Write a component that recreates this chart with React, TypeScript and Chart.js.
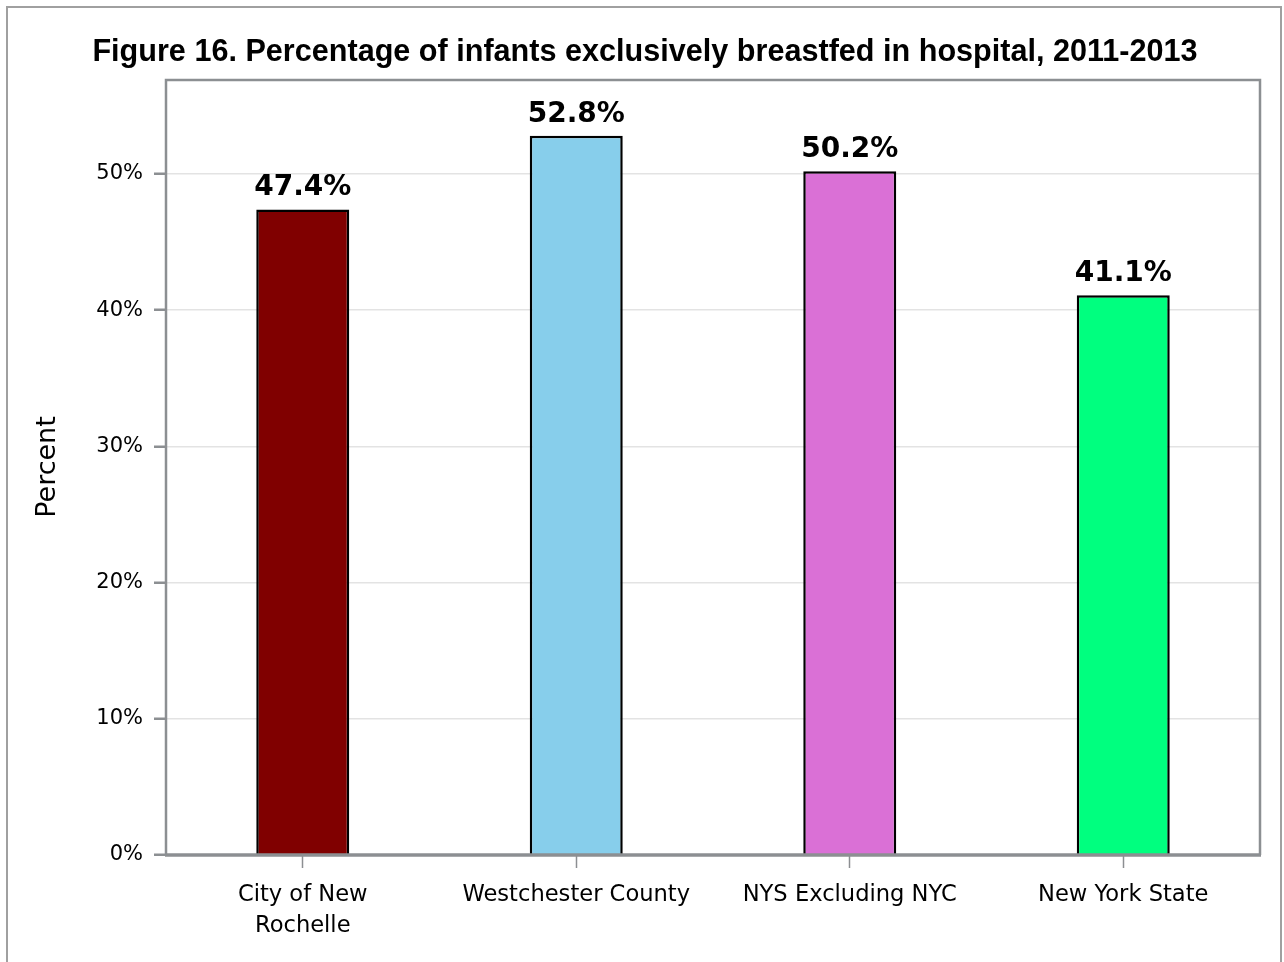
import React, { useEffect, useRef } from "react";
import { Chart, registerables } from "chart.js";

Chart.register(...registerables);

const TITLE = "Figure 16. Percentage of infants exclusively breastfed in hospital, 2011-2013";
const Y_TITLE = "Percent";
const categories: (string | string[])[] = [
  ["City of New", "Rochelle"],
  "Westchester County",
  "NYS Excluding NYC",
  "New York State",
];
const values = [47.4, 52.8, 50.2, 41.1];
const barColors = ["#800000", "#87CEEB", "#DA70D6", "#00FF7F"];
const yTicks = [0, 10, 20, 30, 40, 50];
const Y_MAX = 56.9;

const FRAME = "#8c8f92";
const DEJAVU = "'DejaVu Sans', Verdana, sans-serif";

const customPlugin = {
  id: "custom",
  afterDraw(chart: any) {
    const { ctx, chartArea } = chart;
    const { left, top, right, bottom } = chartArea;
    ctx.save();
    // plot frame
    ctx.strokeStyle = FRAME;
    ctx.lineWidth = 2.5;
    ctx.beginPath();
    ctx.moveTo(left, bottom);
    ctx.lineTo(left, top);
    ctx.lineTo(right, top);
    ctx.lineTo(right, bottom);
    ctx.stroke();
    ctx.lineWidth = 3.5;
    ctx.beginPath();
    ctx.moveTo(left - 1, bottom);
    ctx.lineTo(right + 1, bottom);
    ctx.stroke();

    // title
    ctx.fillStyle = "#000";
    ctx.font = "bold 30.6px 'Liberation Sans', Arial, sans-serif";
    ctx.textAlign = "center";
    ctx.textBaseline = "alphabetic";
    ctx.fillText(TITLE, 645, 61);

    // y-axis title
    ctx.save();
    ctx.translate(48, 467);
    ctx.rotate(-Math.PI / 2);
    ctx.font = "27px " + DEJAVU;
    ctx.textAlign = "center";
    ctx.textBaseline = "middle";
    ctx.fillText(Y_TITLE, 0, 0);
    ctx.restore();

    // data labels
    const meta = chart.getDatasetMeta(0);
    ctx.font = "bold 28px " + DEJAVU;
    ctx.textAlign = "center";
    ctx.textBaseline = "alphabetic";
    meta.data.forEach((el: any, i: number) => {
      ctx.fillText(values[i].toFixed(1) + "%", el.x, el.y - 14);
    });
    ctx.restore();
  },
};

export default function App() {
  const ref = useRef<HTMLCanvasElement>(null);
  useEffect(() => {
    const chart = new Chart(ref.current!, {
      type: "bar",
      data: {
        labels: categories,
        datasets: [
          {
            data: values,
            backgroundColor: barColors,
            borderColor: "#000",
            borderWidth: 2.5,
            barPercentage: 0.34,
            categoryPercentage: 1,
          },
        ],
      },
      options: {
        animation: false,
        responsive: false,
        maintainAspectRatio: false,
        layout: { padding: { top: 80, right: 24, left: 0, bottom: 0 } },
        plugins: {
          legend: { display: false },
          title: { display: false },
          tooltip: { enabled: false },
        },
        scales: {
          x: {
            grid: {
              display: true,
              drawOnChartArea: false,
              drawTicks: true,
              tickLength: 13,
              tickColor: FRAME,
              tickWidth: 1.5,
              offset: false,
            },
            border: { display: false },
            ticks: {
              color: "#000",
              padding: 12,
              maxRotation: 0,
              autoSkip: false,
              font: { family: DEJAVU, size: 22.6, lineHeight: 1.37 },
            },
            afterFit(scale: any) {
              scale.height = 962 - 855;
            },
          },
          y: {
            min: 0,
            max: Y_MAX,
            afterBuildTicks(scale: any) {
              scale.ticks = yTicks.map((v) => ({ value: v }));
            },
            grid: {
              color: "#e3e3e3",
              lineWidth: 1.5,
              drawTicks: true,
              tickLength: 12,
              tickColor: FRAME,
              tickWidth: 2.5,
            },
            border: { display: false },
            ticks: {
              color: "#000",
              padding: 11,
              font: { family: DEJAVU, size: 21 },
              callback: (v: any) => v + "%",
            },
            afterFit(scale: any) {
              scale.width = 166;
            },
          },
        },
      },
      plugins: [customPlugin],
    });
    return () => chart.destroy();
  }, []);

  return (
    <div
      style={{
        position: "absolute",
        left: 0,
        top: 0,
        width: 1284,
        height: 962,
        overflow: "hidden",
        background: "#fff",
      }}
    >
      <div
        style={{
          position: "absolute",
          left: 6,
          top: 6,
          width: 1276,
          height: 980,
          border: "2px solid #a0a0a0",
          boxSizing: "border-box",
        }}
      />
      <canvas
        ref={ref}
        width={1284}
        height={962}
        style={{ position: "absolute", left: 0, top: 0, width: 1284, height: 962 }}
      />
    </div>
  );
}
